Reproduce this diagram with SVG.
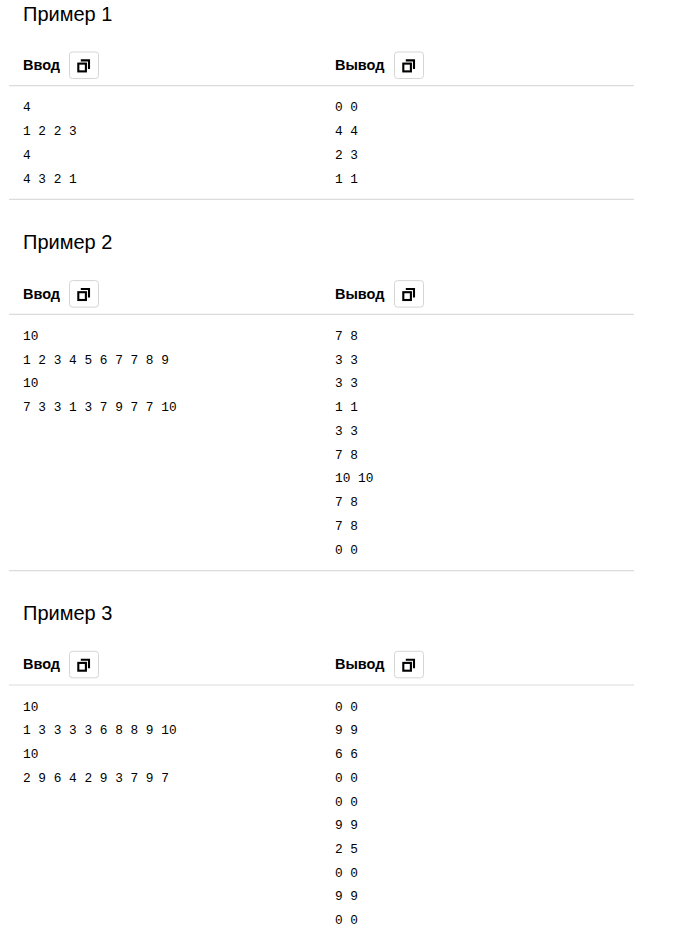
<svg xmlns="http://www.w3.org/2000/svg" xmlns:xlink="http://www.w3.org/1999/xlink" width="700" height="931" viewBox="0 0 700 931">
<style>
.title{font-family:"Liberation Sans",Arial,sans-serif;font-size:20px;fill:#000}
.head{font-family:"Liberation Sans",Arial,sans-serif;font-size:14.5px;font-weight:bold;fill:#000}
.mono{font-family:"Liberation Mono","DejaVu Sans Mono",monospace;font-size:12.8px;fill:#000}
.rule{stroke:#dcdcdc;stroke-width:1.2}
.btnbox{fill:#fff;stroke:#d6d6d6;stroke-width:1}
.ico{fill:none;stroke:#000;stroke-width:2.1}
</style>
<defs>
<g id="btn">
<rect class="btnbox" x="0" y="0" width="29" height="26.5" rx="3"/>
<rect class="ico" x="8.8" y="11.6" width="7.6" height="7.8"/>
<path class="ico" d="M11.3,8.4 H19.5 V16.9"/>
</g>
</defs>
<rect width="700" height="931" fill="#fff"/>

<g id="example1">
<text class="title" x="23" y="20.7">Пример 1</text>
<text class="head" x="23" y="70">Ввод</text>
<use xlink:href="#btn" x="69.5" y="52"/>
<text class="head" x="335" y="70">Вывод</text>
<use xlink:href="#btn" x="394.5" y="52"/>
<line class="rule" x1="9" y1="85.7" x2="634" y2="85.7"/>
<g class="mono">
<text x="23" y="111.4">4</text>
<text x="23" y="135.1">1 2 2 3</text>
<text x="23" y="158.9">4</text>
<text x="23" y="182.6">4 3 2 1</text>
<text x="335" y="111.4">0 0</text>
<text x="335" y="135.1">4 4</text>
<text x="335" y="158.9">2 3</text>
<text x="335" y="182.6">1 1</text>
</g>
<line class="rule" x1="9" y1="199.3" x2="634" y2="199.3"/>
</g>

<g id="example2" transform="translate(0,228.6)">
<text class="title" x="23" y="20.7">Пример 2</text>
<text class="head" x="23" y="70">Ввод</text>
<use xlink:href="#btn" x="69.5" y="52"/>
<text class="head" x="335" y="70">Вывод</text>
<use xlink:href="#btn" x="394.5" y="52"/>
<line class="rule" x1="9" y1="85.7" x2="634" y2="85.7"/>
<g class="mono">
<text x="23" y="111.4">10</text>
<text x="23" y="135.1">1 2 3 4 5 6 7 7 8 9</text>
<text x="23" y="158.9">10</text>
<text x="23" y="182.6">7 3 3 1 3 7 9 7 7 10</text>
<text x="335" y="111.4">7 8</text>
<text x="335" y="135.1">3 3</text>
<text x="335" y="158.9">3 3</text>
<text x="335" y="182.6">1 1</text>
<text x="335" y="206.3">3 3</text>
<text x="335" y="230.1">7 8</text>
<text x="335" y="253.8">10 10</text>
<text x="335" y="277.5">7 8</text>
<text x="335" y="301.2">7 8</text>
<text x="335" y="325">0 0</text>
</g>
<line class="rule" x1="9" y1="342.1" x2="634" y2="342.1"/>
</g>

<g id="example3" transform="translate(0,599.3)">
<text class="title" x="23" y="20.7">Пример 3</text>
<text class="head" x="23" y="70">Ввод</text>
<use xlink:href="#btn" x="69.5" y="52"/>
<text class="head" x="335" y="70">Вывод</text>
<use xlink:href="#btn" x="394.5" y="52"/>
<line class="rule" x1="9" y1="85.7" x2="634" y2="85.7"/>
<g class="mono">
<text x="23" y="111.4">10</text>
<text x="23" y="135.1">1 3 3 3 3 6 8 8 9 10</text>
<text x="23" y="158.9">10</text>
<text x="23" y="182.6">2 9 6 4 2 9 3 7 9 7</text>
<text x="335" y="111.4">0 0</text>
<text x="335" y="135.1">9 9</text>
<text x="335" y="158.9">6 6</text>
<text x="335" y="182.6">0 0</text>
<text x="335" y="206.3">0 0</text>
<text x="335" y="230.1">9 9</text>
<text x="335" y="253.8">2 5</text>
<text x="335" y="277.5">0 0</text>
<text x="335" y="301.2">9 9</text>
<text x="335" y="325">0 0</text>
</g>
</g>
</svg>
